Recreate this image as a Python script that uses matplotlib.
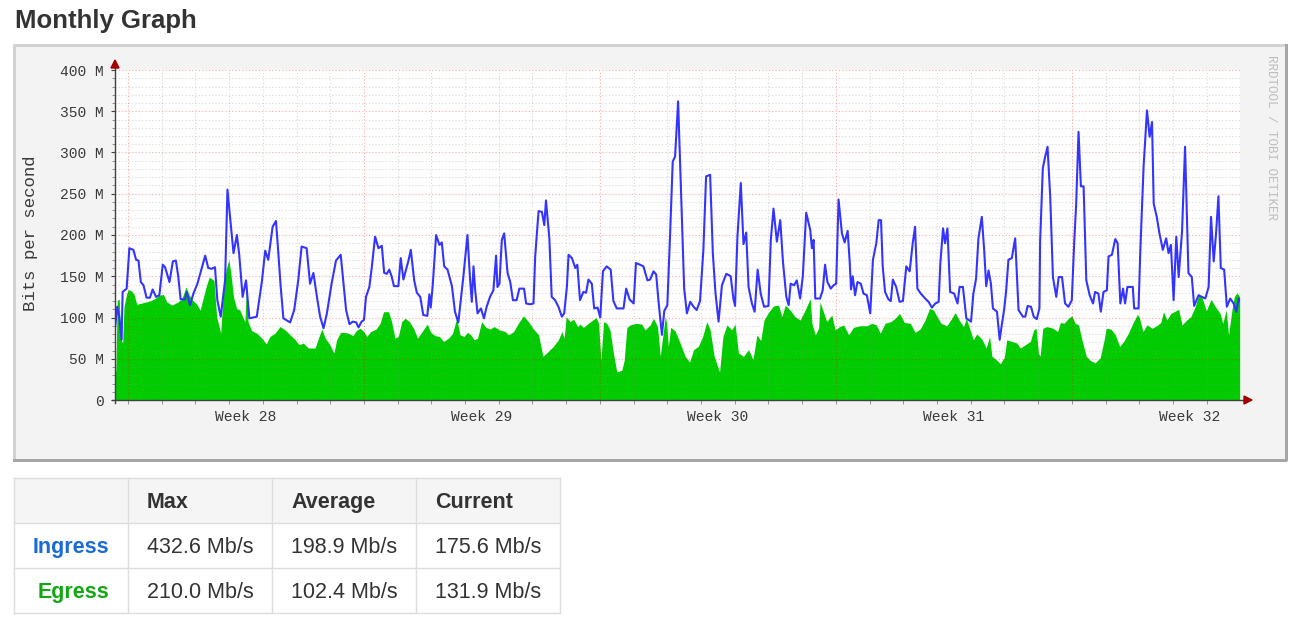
import matplotlib
matplotlib.use("Agg")
import matplotlib.pyplot as plt
from matplotlib.patches import Rectangle, Polygon
from matplotlib.lines import Line2D

# ---- data (days since Monday of week 28, Mbit/s) ----
in_day = [-0.38, -0.32, -0.26, -0.19, -0.16, -0.04, 0.04, 0.16, 0.24, 0.31, 0.38, 0.46,
          0.55, 0.65, 0.73, 0.83, 0.93, 1.03, 1.10, 1.23, 1.33, 1.42, 1.49, 1.56, 1.69,
          1.74, 1.84, 1.94, 2.06, 2.16, 2.29, 2.38, 2.48, 2.58, 2.65, 2.75, 2.88, 2.95,
          3.05, 3.13, 3.23, 3.30, 3.40, 3.50, 3.60, 3.82, 3.97, 4.07, 4.16, 4.29, 4.39,
          4.46, 4.53, 4.61, 4.81, 4.93, 5.05, 5.15, 5.30, 5.40, 5.50, 5.62, 5.70, 5.80,
          5.90, 6.04, 6.17, 6.31, 6.39, 6.47, 6.57, 6.67, 6.77, 6.84, 6.93, 7.00, 7.06,
          7.16, 7.23, 7.33, 7.43, 7.53, 7.60, 7.68, 7.75, 7.82, 7.89, 8.02, 8.09, 8.17,
          8.25, 8.32, 8.39, 8.49, 8.57, 8.67, 8.76, 8.88, 8.94, 8.98, 9.04, 9.14, 9.24,
          9.31, 9.38, 9.48, 9.61, 9.70, 9.80, 9.95, 10.07, 10.15, 10.20, 10.25, 10.30,
          10.37, 10.47, 10.56, 10.64, 10.74, 10.84, 10.92, 10.96, 11.02, 11.09, 11.16,
          11.26, 11.34, 11.42, 11.53, 11.61, 11.75, 11.81, 11.93, 12.03, 12.08, 12.18,
          12.28, 12.35, 12.40, 12.50, 12.57, 12.67, 12.77, 12.87, 12.94, 13.02, 13.07,
          13.17, 13.27, 13.33, 13.41, 13.51, 13.59, 13.66, 13.76, 13.83, 13.93, 14.01,
          14.09, 14.20, 14.32, 14.40, 14.50, 14.70, 14.78, 14.88, 15.00, 15.07, 15.19,
          15.29, 15.41, 15.49, 15.59, 15.67, 15.74, 15.84, 15.91, 16.00, 16.08, 16.16,
          16.23, 16.32, 16.41, 16.50, 16.58, 16.68, 16.78, 16.87, 16.97, 17.07, 17.15,
          17.27, 17.35, 17.43, 17.52, 17.62, 17.75, 17.88, 17.96, 18.01, 18.08, 18.18,
          18.26, 18.34, 18.41, 18.51, 18.59, 18.68, 18.77, 18.87, 19.00, 19.07, 19.15,
          19.25, 19.35, 19.43, 19.53, 19.60, 19.66, 19.76, 19.84, 19.94, 20.02, 20.12,
          20.24, 20.29, 20.34, 20.39, 20.53, 20.61, 20.68, 20.75, 20.85, 20.93, 21.01,
          21.08, 21.18, 21.26, 21.35, 21.41, 21.45, 21.50, 21.57, 21.64, 21.74, 21.82,
          21.92, 22.02, 22.10, 22.20, 22.27, 22.34, 22.39, 22.46, 22.56, 22.63, 22.69,
          22.79, 22.89, 22.99, 23.09, 23.19, 23.28, 23.35, 23.42, 23.52, 23.65, 23.75,
          23.85, 23.95, 24.05, 24.10, 24.18, 24.24, 24.31, 24.39, 24.51, 24.61, 24.67,
          24.77, 24.87, 25.01, 25.08, 25.16, 25.23, 25.33, 25.40, 25.46, 25.53, 25.60,
          25.66, 25.78, 25.86, 25.93, 25.99, 26.05, 26.12, 26.22, 26.32, 26.42, 26.55,
          26.62, 26.69, 26.79, 26.87, 26.96, 27.04, 27.06, 27.14, 27.21, 27.28, 27.36,
          27.44, 27.54, 27.61, 27.71, 27.80, 27.90, 28.00, 28.07, 28.13, 28.20, 28.27,
          28.35, 28.43, 28.53, 28.63, 28.69, 28.79, 28.86, 28.94, 29.04, 29.09, 29.19,
          29.29, 29.36, 29.44, 29.52, 29.58, 29.65, 29.81, 29.85, 29.98, 30.03, 30.13,
          30.23, 30.31, 30.38, 30.43, 30.52, 30.60, 30.70, 30.80, 30.87, 30.94, 31.02,
          31.10, 31.17, 31.27, 31.36, 31.46, 31.56, 31.63, 31.76, 31.86, 31.96, 32.06,
          32.13, 32.21, 32.28, 32.35, 32.42, 32.52, 32.60, 32.70, 32.80, 32.88, 32.95,
          32.98]
in_mbps = [89, 113, 101, 73, 131, 135, 184, 182, 170, 169, 143, 139,
           124, 124, 134, 125, 127, 164, 161, 143, 168, 169, 150, 122, 122,
           131, 115, 129, 141, 156, 175, 160, 159, 161, 121, 101, 145, 255,
           212, 178, 200, 176, 125, 145, 99, 101, 143, 181, 170, 210, 217,
           178, 137, 99, 94, 109, 145, 186, 184, 141, 154, 121, 101, 87,
           105, 141, 169, 176, 143, 109, 92, 95, 94, 88, 95, 97, 125,
           137, 160, 198, 184, 187, 154, 153, 158, 150, 138, 138, 172, 146,
           158, 169, 182, 145, 130, 125, 103, 102, 128, 112, 139, 200, 188,
           191, 162, 158, 138, 107, 94, 150, 200, 145, 119, 162, 133,
           105, 111, 99, 113, 125, 133, 175, 137, 141, 194, 202,
           154, 143, 121, 121, 135, 135, 117, 116, 117, 174, 229,
           228, 212, 242, 196, 125, 121, 113, 101, 105, 137, 176,
           172, 160, 164, 121, 131, 130, 146, 141, 111, 112, 100,
           156, 162, 158, 120, 111, 111, 135, 122, 117, 166, 164,
           162, 145, 146, 156, 152, 119, 79, 108, 115, 198, 289,
           295, 362, 249, 135, 105, 119, 113, 109, 120, 182, 271,
           273, 178, 129, 95, 139, 153, 150, 123, 114, 198, 263,
           189, 203, 137, 117, 107, 158, 129, 113, 114, 194, 232,
           192, 218, 168, 125, 115, 141, 139, 145, 123, 150, 227,
           206, 184, 194, 123, 123, 133, 164, 143, 135, 139, 141,
           243, 202, 191, 205, 168, 134, 150, 127, 143, 141, 129,
           127, 105, 170, 190, 218, 218, 162, 131, 122, 120, 146,
           137, 119, 120, 162, 156, 190, 210, 135, 129, 123, 119,
           112, 117, 119, 166, 208, 190, 208, 131, 129, 117, 137,
           137, 99, 95, 129, 147, 196, 222, 182, 138, 157, 141,
           111, 107, 73, 93, 109, 131, 170, 172, 196, 109, 101,
           101, 114, 113, 101, 98, 111, 192, 281, 295, 307, 246,
           149, 125, 149, 149, 117, 113, 121, 190, 238, 325, 259,
           259, 145, 127, 117, 131, 129, 107, 131, 133, 174, 176,
           195, 190, 117, 135, 117, 137, 137, 111, 111, 178, 283,
           351, 319, 337, 238, 222, 202, 182, 196, 178, 188, 121,
           198, 149, 204, 307, 154, 149, 114, 127, 125, 123, 137,
           222, 168, 202, 247, 160, 158, 113, 123, 117, 107, 123,
           120]

eg_day = [-0.38, -0.36, -0.32, -0.26, -0.22, -0.16, -0.12, -0.04, 0.01, 0.11, 0.18, 0.26,
          0.46, 0.65, 0.80, 0.93, 1.05, 1.15, 1.30, 1.45, 1.59, 1.72, 1.82, 1.92, 2.02,
          2.14, 2.24, 2.33, 2.41, 2.48, 2.55, 2.63, 2.75, 2.83, 2.91, 2.99, 3.05, 3.13,
          3.22, 3.32, 3.42, 3.47, 3.52, 3.56, 3.67, 3.82, 3.97, 4.10, 4.21, 4.36, 4.51,
          4.66, 4.81, 4.96, 5.08, 5.20, 5.35, 5.55, 5.65, 5.75, 5.85, 5.99, 6.11, 6.19,
          6.31, 6.39, 6.54, 6.67, 6.77, 6.88, 7.00, 7.08, 7.20, 7.36, 7.48, 7.58, 7.73,
          7.82, 7.92, 8.02, 8.12, 8.22, 8.35, 8.47, 8.59, 8.71, 8.88, 8.98, 9.11, 9.24,
          9.36, 9.51, 9.63, 9.75, 9.85, 9.97, 10.07, 10.17, 10.27, 10.37, 10.49, 10.62,
          10.74, 10.86, 11.02, 11.19, 11.29, 11.44, 11.58, 11.73, 11.88, 12.03, 12.18,
          12.31, 12.47, 12.62, 12.77, 12.87, 12.94, 13.00, 13.12, 13.22, 13.34, 13.41,
          13.51, 13.66, 13.79, 13.89, 13.96, 14.03, 14.11, 14.20, 14.30, 14.40, 14.50,
          14.65, 14.72, 14.80, 14.90, 15.07, 15.24, 15.34, 15.49, 15.59, 15.71, 15.79,
          15.87, 15.94, 15.98, 16.03, 16.10, 16.23, 16.38, 16.53, 16.66, 16.78, 16.92,
          17.05, 17.17, 17.27, 17.39, 17.55, 17.65, 17.77, 17.91, 18.01, 18.11, 18.26,
          18.41, 18.54, 18.66, 18.77, 18.87, 19.00, 19.15, 19.30, 19.40, 19.50, 19.64,
          19.79, 19.94, 20.09, 20.24, 20.29, 20.39, 20.49, 20.53, 20.63, 20.73, 20.88,
          20.98, 21.11, 21.23, 21.38, 21.52, 21.72, 21.92, 22.07, 22.20, 22.32, 22.46,
          22.63, 22.76, 22.89, 23.03, 23.21, 23.35, 23.50, 23.65, 23.78, 23.90, 24.00,
          24.12, 24.29, 24.44, 24.54, 24.67, 24.79, 24.87, 24.99, 25.08, 25.18, 25.33,
          25.46, 25.56, 25.63, 25.78, 25.88, 26.00, 26.07, 26.22, 26.37, 26.47, 26.62,
          26.77, 26.87, 26.94, 27.01, 27.06, 27.14, 27.26, 27.44, 27.58, 27.66, 27.77,
          27.90, 28.00, 28.10, 28.20, 28.30, 28.43, 28.55, 28.69, 28.84, 28.96, 29.02,
          29.16, 29.29, 29.42, 29.54, 29.68, 29.81, 29.95, 30.01, 30.11, 30.23, 30.38,
          30.52, 30.64, 30.72, 30.82, 30.94, 31.04, 31.17, 31.27, 31.41, 31.53, 31.66,
          31.76, 31.86, 31.99, 32.13, 32.26, 32.40, 32.48, 32.58, 32.65, 32.75, 32.82,
          32.90, 32.98]
eg_mbps = [34, 36, 121, 122, 75, 69, 113, 129, 134, 132, 128, 116,
           118, 120, 123, 127, 128, 119, 115, 118, 122, 137, 127, 121, 117,
           109, 125, 139, 149, 147, 145, 101, 81, 133, 158, 170, 154, 125,
           111, 109, 99, 95, 145, 95, 84, 81, 75, 68, 77, 81, 89,
           85, 79, 73, 67, 69, 63, 63, 75, 86, 75, 67, 57, 73,
           82, 82, 81, 78, 84, 87, 83, 77, 83, 86, 93, 107, 107,
           95, 75, 77, 95, 99, 95, 87, 75, 82, 92, 82, 78, 77,
           71, 75, 81, 99, 79, 77, 82, 79, 73, 75, 95, 88,
           86, 89, 85, 83, 79, 83, 93, 102, 95, 86, 79,
           53, 59, 65, 73, 83, 75, 101, 95, 98, 89, 92,
           88, 93, 97, 100, 93, 48, 95, 93, 85, 57, 34,
           36, 48, 88, 91, 93, 92, 85, 91, 99, 89, 53,
           79, 101, 93, 65, 88, 84, 69, 53, 46, 61, 65,
           77, 95, 85, 53, 34, 77, 91, 85, 92, 57, 53,
           61, 49, 79, 72, 97, 106, 114, 115, 101, 115, 109,
           101, 97, 109, 123, 93, 79, 87, 119, 107, 95, 103,
           85, 89, 91, 79, 88, 90, 90, 93, 91, 81, 93,
           95, 99, 105, 94, 93, 82, 86, 97, 111, 109, 101,
           93, 90, 99, 106, 96, 89, 99, 84, 73, 80, 74,
           63, 77, 53, 48, 44, 52, 73, 71, 69, 63, 67,
           71, 85, 87, 57, 53, 87, 89, 87, 83, 94, 93,
           99, 102, 93, 91, 73, 53, 48, 45, 51, 73, 87,
           86, 79, 65, 71, 81, 93, 104, 99, 83, 91, 87,
           90, 94, 107, 97, 105, 107, 110, 91, 97, 101, 113,
           127, 125, 108, 122, 113, 105, 93, 109, 79, 109, 125,
           130, 125]

week_numbers = [28, 29, 30, 31, 32]
y_ticks = [0, 50, 100, 150, 200, 250, 300, 350, 400]
y_tick_labels = ["0", "50 M", "100 M", "150 M", "200 M", "250 M", "300 M", "350 M", "400 M"]

table_cols = ["", "Max", "Average", "Current"]
table_rows = ["Ingress", "Egress"]
table_vals = [[432.6, 198.9, 175.6], [210.0, 102.4, 131.9]]
row_colors = ["#1a6bd6", "#13a813"]

# ---- figure ----
W, H = 1304, 628


def fx(x):
    return x / W


def fy(y):
    return 1 - y / H


fig = plt.figure(figsize=(W / 100, H / 100), dpi=100)
fig.patch.set_facecolor("white")
mono = "Liberation Mono"
sans = "Liberation Sans"

fig.text(fx(15), fy(28), "Monthly Graph", fontsize=18.5, fontweight="bold",
         color="#333333", family=sans, va="baseline", ha="left")

# rrdtool style frame
fig.add_artist(Rectangle((fx(14), fy(460)), fx(1286) - fx(14), fy(45) - fy(460),
                         transform=fig.transFigure, facecolor="#f3f3f3", edgecolor="none", zorder=0))
lw3 = 3 * 0.72
fig.add_artist(Line2D([fx(14), fx(14), fx(1286)], [fy(460), fy(45), fy(45)],
                      transform=fig.transFigure, color="#d2d2d2", lw=lw3, zorder=1))
fig.add_artist(Line2D([fx(14), fx(1286), fx(1286)], [fy(460), fy(460), fy(45)],
                      transform=fig.transFigure, color="#a6a6a6", lw=lw3, zorder=1))

ax = fig.add_axes([fx(115), fy(400), fx(1240) - fx(115), fy(70) - fy(400)])
ax.set_facecolor("white")
ax.set_xlim(-0.386, 32.99)
ax.set_ylim(0, 400)
for s in ax.spines.values():
    s.set_visible(False)

ax.fill_between(eg_day, 0, eg_mbps, color="#00cc00", lw=0, zorder=1)

# grid (drawn above the area, like rrdtool)
dot = (0, (1, 2))
for v in range(10, 401, 10):
    if v % 50 == 0:
        ax.axhline(v, color="#ff0000", alpha=0.35, lw=0.8, ls=dot, zorder=2)
    else:
        ax.axhline(v, color="#909090", alpha=0.35, lw=0.8, ls=dot, zorder=2)
for d in range(0, 33):
    if d % 7 == 0:
        ax.axvline(d, color="#ff0000", alpha=0.35, lw=0.8, ls=dot, zorder=2)
    else:
        ax.axvline(d, color="#909090", alpha=0.35, lw=0.8, ls=dot, zorder=2)

ax.plot(in_day, in_mbps, color="#3434ff", lw=1.5, zorder=3)

# ticks
ax.set_yticks(y_ticks, y_tick_labels, family=mono, fontsize=10.5, color="#3a3a3a")
ax.set_yticks(range(0, 401, 10), minor=True)
ax.tick_params(axis="y", which="major", length=3, width=0.8, color="#404040", pad=5)
ax.tick_params(axis="y", which="minor", length=2, width=0.6, color="#808080")
week_mid = [7 * i + 3.5 for i in range(len(week_numbers))]
ax.set_xticks(week_mid, [f"Week {w}" for w in week_numbers], family=mono,
              fontsize=10.5, color="#3a3a3a")
ax.set_xticks(range(0, 33), minor=True)
ax.tick_params(axis="x", which="major", length=0, pad=7)
ax.tick_params(axis="x", which="minor", length=3, width=0.6, color="#808080")

# axes with arrows
axis_col = "#404040"
arrow_col = "#a00000"
fig.add_artist(Line2D([fx(112), fx(1245)], [fy(400), fy(400)], transform=fig.transFigure,
                      color=axis_col, lw=1.0, zorder=5))
fig.add_artist(Line2D([fx(115), fx(115)], [fy(403), fy(67)], transform=fig.transFigure,
                      color=axis_col, lw=1.0, zorder=5))
fig.add_artist(Polygon([[fx(1244), fy(396)], [fx(1252), fy(400)], [fx(1244), fy(404)]],
                       closed=True, transform=fig.transFigure, color=arrow_col, zorder=6))
fig.add_artist(Polygon([[fx(111), fy(68)], [fx(115), fy(60)], [fx(119), fy(68)]],
                       closed=True, transform=fig.transFigure, color=arrow_col, zorder=6))

fig.text(fx(31), fy(233), "Bits per second", rotation=90, ha="center", va="center",
         family=mono, fontsize=12.5, color="#3a3a3a")
fig.text(fx(1271), fy(55), "RRDTOOL / TOBI OETIKER", rotation=270, ha="center", va="top",
         family=mono, fontsize=9, color="#bdbdbd")

# ---- stats table ----
col_x = [14, 128, 272, 416, 560]
row_y = [478, 523, 568, 613]
fig.add_artist(Rectangle((fx(14), fy(523)), fx(560) - fx(14), fy(478) - fy(523),
                         transform=fig.transFigure, facecolor="#f5f5f5", edgecolor="none"))
for y in row_y:
    fig.add_artist(Line2D([fx(14), fx(560)], [fy(y), fy(y)], transform=fig.transFigure,
                          color="#dddddd", lw=1.0))
for x in col_x:
    fig.add_artist(Line2D([fx(x), fx(x)], [fy(478), fy(613)], transform=fig.transFigure,
                          color="#dddddd", lw=1.0))

for j, name in enumerate(table_cols):
    if name:
        fig.text(fx(col_x[j] + 19), fy(508), name, family=sans, fontsize=15.5,
                 fontweight="bold", color="#333333", va="baseline", ha="left")
for i, name in enumerate(table_rows):
    yb = row_y[i + 1] + 30
    fig.text(fx(109), fy(yb), name, family=sans, fontsize=15.5, fontweight="bold",
             color=row_colors[i], va="baseline", ha="right")
    for j, v in enumerate(table_vals[i]):
        fig.text(fx(col_x[j + 1] + 19), fy(yb), f"{v:.1f} Mb/s", family=sans, fontsize=15.5,
                 color="#333333", va="baseline", ha="left")

fig.savefig("out.png", dpi=100)
